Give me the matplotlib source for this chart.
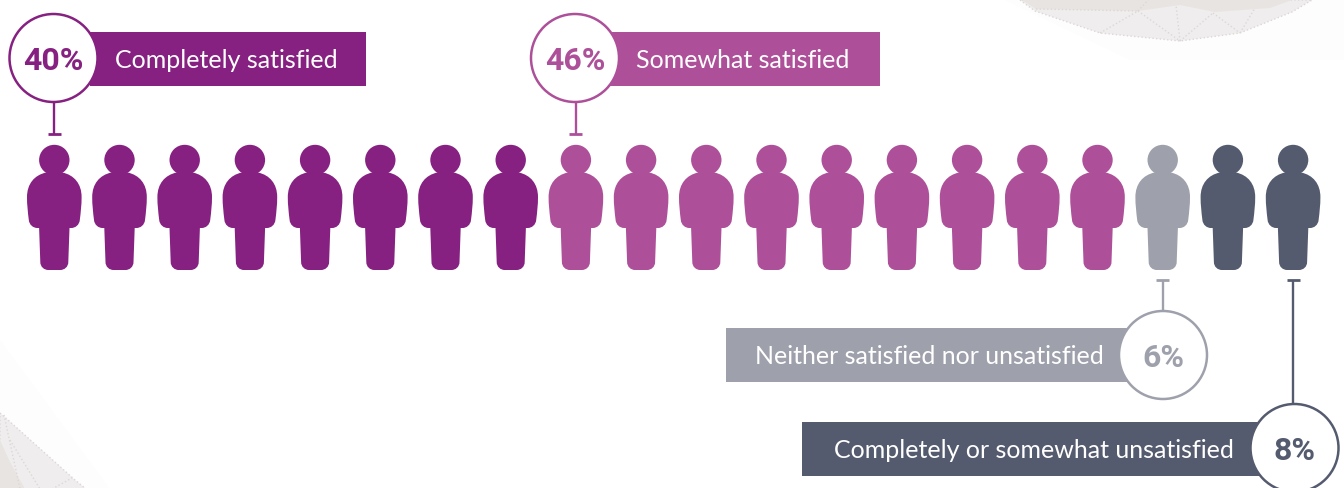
import matplotlib
matplotlib.use("Agg")
import matplotlib.pyplot as plt
from matplotlib.patches import Circle, PathPatch, Polygon, Rectangle
from matplotlib.path import Path

categories = ["Completely satisfied", "Somewhat satisfied",
              "Neither satisfied nor unsatisfied", "Completely or somewhat unsatisfied"]
percents = [40, 46, 6, 8]
figure_counts = [8, 9, 1, 2]

colors = ["#862181", "#AD5099", "#9EA1AB", "#555B6F"]

first_x = 54.3
step = 65.2


def person_path(cx):
    C4, L = Path.CURVE4, Path.LINETO
    outline = [(8, 172.5, Path.MOVETO),
               (20, 175, C4), (27.3, 184, C4), (27.3, 197, C4),
               (27.3, 205, C4), (26.5, 212, C4), (25.5, 220, C4),
               (25, 225, C4), (21, 228, C4), (17, 228, C4),
               (15.2, 228, L),
               (14, 262, L),
               (14, 267, C4), (10, 270, C4), (6, 270, C4),
               (-6, 270, L),
               (-10, 270, C4), (-14, 267, C4), (-14, 262, C4),
               (-15.2, 228, L),
               (-17, 228, L),
               (-21, 228, C4), (-25, 225, C4), (-25.5, 220, C4),
               (-26.5, 212, C4), (-27.3, 205, C4), (-27.3, 197, C4),
               (-27.3, 184, C4), (-20, 175, C4), (-8, 172.5, C4),
               (8, 172.5, L)]
    verts = [(cx + p[0], p[1]) for p in outline]
    codes = [p[2] for p in outline]
    return Path(verts, codes)


fig = plt.figure(figsize=(13.44, 4.89), dpi=100)
ax = fig.add_axes([0, 0, 1, 1])
ax.set_xlim(0, 1344)
ax.set_ylim(488, -1)
ax.axis("off")

# faint background shapes
ax.add_patch(Polygon([(1005, 0), (1130, 60), (1344, 60), (1344, 0)], fc="#FDFDFD", ec="none", zorder=0))
ax.add_patch(Polygon([(0, 340), (110, 489), (0, 489)], fc="#FDFDFD", ec="none", zorder=0))
top_shape = [(1020, 0), (1035, 11), (1100, 33), (1180, 41), (1240, 33), (1292, 12), (1312, 0)]
ax.add_patch(Polygon(top_shape, fc="#EFEDED", ec="#DDD8D6", lw=1, ls=":", zorder=1))
ax.add_patch(Polygon([(1022, 0), (1036, 9), (1138, 11), (1180, 5), (1215, 12), (1270, 8), (1292, 0)],
                     fc="#E8E4E2", ec="none", zorder=1))
for seg in [[(1100, 33), (1138, 11)], [(1138, 11), (1180, 41)], [(1180, 41), (1176, 5)],
            [(1180, 41), (1213, 13)], [(1213, 13), (1240, 33)], [(1036, 9), (1138, 11)],
            [(1138, 11), (1148, 0)], [(1240, 33), (1255, 8)]]:
    ax.plot(*zip(*seg), color="#DDD8D6", lw=1, ls=":", zorder=2)
ax.add_patch(Polygon([(0, 413), (8, 420), (75, 480), (86, 489), (0, 489)],
                     fc="#EFEDED", ec="#DDD8D6", lw=1, ls=":", zorder=1))
ax.add_patch(Polygon([(0, 440), (10, 462), (25, 489), (0, 489)], fc="#E8E4E2", ec="none", zorder=1))
for seg in [[(4, 415), (20, 489)], [(10, 440), (40, 489)], [(52, 489), (72, 478)]]:
    ax.plot(*zip(*seg), color="#DDD8D6", lw=1, ls=":", zorder=2)

# the row of people
i = 0
first_index = []
for count, color in zip(figure_counts, colors):
    first_index.append(i)
    for _ in range(count):
        cx = first_x + step * i
        ax.add_patch(PathPatch(person_path(cx), fc=color, ec="none", zorder=3))
        ax.add_patch(Circle((cx, 160), 15.2, fc=color, ec="none", zorder=3))
        i += 1

# the stem points at the first person of a group, except the last group
stem_index = [first_index[0], first_index[1], first_index[2], i - 1]

# callouts: circle x, circle y, banner left, banner right, banner top, text x, stem end
callouts = [(53.5, 58, 90, 366, 32, 115, 134),
            (575, 58, 610, 880, 32, 636, 134),
            (1163, 355, 726, 1130, 328, 755, 280),
            (1294.5, 448, 802, 1262, 422, 834, 280)]

for n, (label, pct, color) in enumerate(zip(categories, percents, colors)):
    x, y, left, right, top, tx, stem = callouts[n]
    sx = first_x + step * stem_index[n]
    ax.add_patch(Rectangle((left, top), right - left, 54, fc=color, ec="none", zorder=4))
    edge = y + 44.5 if stem > y else y - 44.5
    ax.plot([sx, sx], [edge, stem], color=color, lw=1.7, zorder=4, solid_capstyle="butt")
    ax.plot([sx - 6.5, sx + 6.5], [stem, stem], color=color, lw=2, zorder=4, solid_capstyle="butt")
    ax.add_patch(Circle((x, y), 44, fc="white", ec=color, lw=1.8, zorder=5))
    ax.text(tx, top + 27.5, label, color="white", fontsize=18, family="Lato",
            va="center", ha="left", zorder=6)
    ax.text(x, y + 2, f"{pct}%", color=color, fontsize=23, family="Roboto", fontweight="bold",
            va="center", ha="center", zorder=6)

fig.savefig("out.png", dpi=100)
